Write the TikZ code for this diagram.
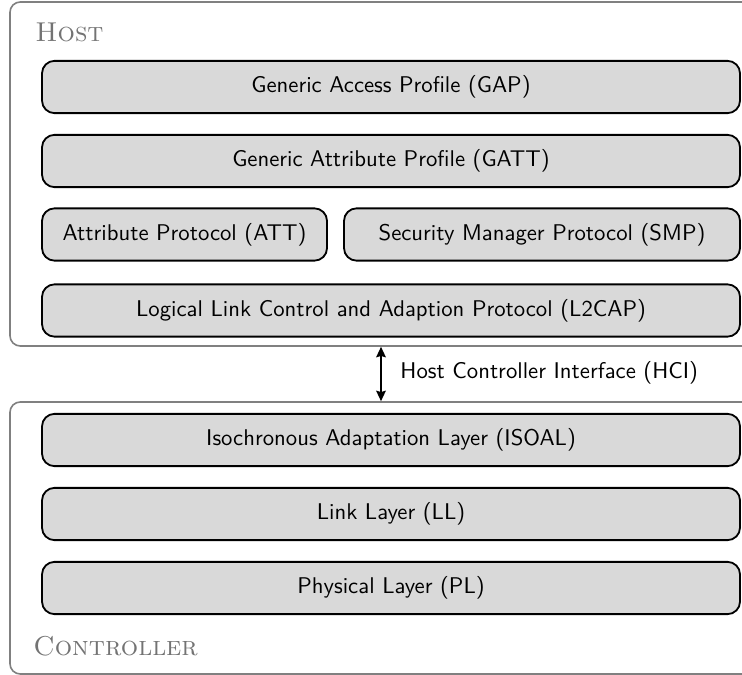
\documentclass[tikz,border=0pt]{standalone}
\usetikzlibrary{arrows.meta,fit}
\begin{document}
\begin{tikzpicture}[x=0.44pt,y=-0.44pt,font=\sffamily,
  layer/.style={draw=black, thick, fill=black!15, rounded corners=5.5pt, inner sep=0pt,
    minimum height=23pt, minimum width=307.12pt},
  group/.style={draw=black!50, line width=0.7pt, rounded corners=4.5pt, inner sep=0pt},
  grouplabel/.style={font=\rmfamily\large\scshape, text=black!55, anchor=base west, inner sep=0pt},
  link/.style={line width=0.9pt, {Stealth[length=4.6pt,width=4.2pt,inset=0.6pt]}-{Stealth[length=4.6pt,width=4.2pt,inset=0.6pt]}}]
\useasboundingbox (0,0) rectangle (742,675);
\begin{scope}
\clip (0,0) rectangle (742,675);
% host and controller frames
\node[group, fit={(10,2)(790,346)}] (host) {};
\node[group, fit={(10,402)(790,674)}] (ctrl) {};
\node[grouplabel] (hostlbl) at (35,42) {Host};
\node[grouplabel] (ctrllbl) at (33,655) {Controller};
% host layers
\node[layer] (gap) at (391,87) {Generic Access Profile (GAP)};
\node[layer] (gatt) at (391,161) {Generic Attribute Profile (GATT)};
\node[layer, minimum width=125.4pt] (att) at (184.5,234.5) {Attribute Protocol (ATT)};
\node[layer, minimum width=174.24pt] (smp) at (542,234.5) {Security Manager Protocol (SMP)};
\node[layer] (l2cap) at (391,310.5) {Logical Link Control and Adaption Protocol (L2CAP)};
% controller layers
\node[layer] (isoal) at (391,440) {Isochronous Adaptation Layer (ISOAL)};
\node[layer] (ll) at (391,514) {Link Layer (LL)};
\node[layer] (pl) at (391,588) {Physical Layer (PL)};
% host controller interface
\node[anchor=west, inner sep=0pt] (hci) at (400,373) {Host Controller Interface (HCI)};
\coordinate (hcix) at (381,373);
\draw[link] (host.south -| hcix) -- (ctrl.north -| hcix);
\end{scope}
\end{tikzpicture}
\end{document}
